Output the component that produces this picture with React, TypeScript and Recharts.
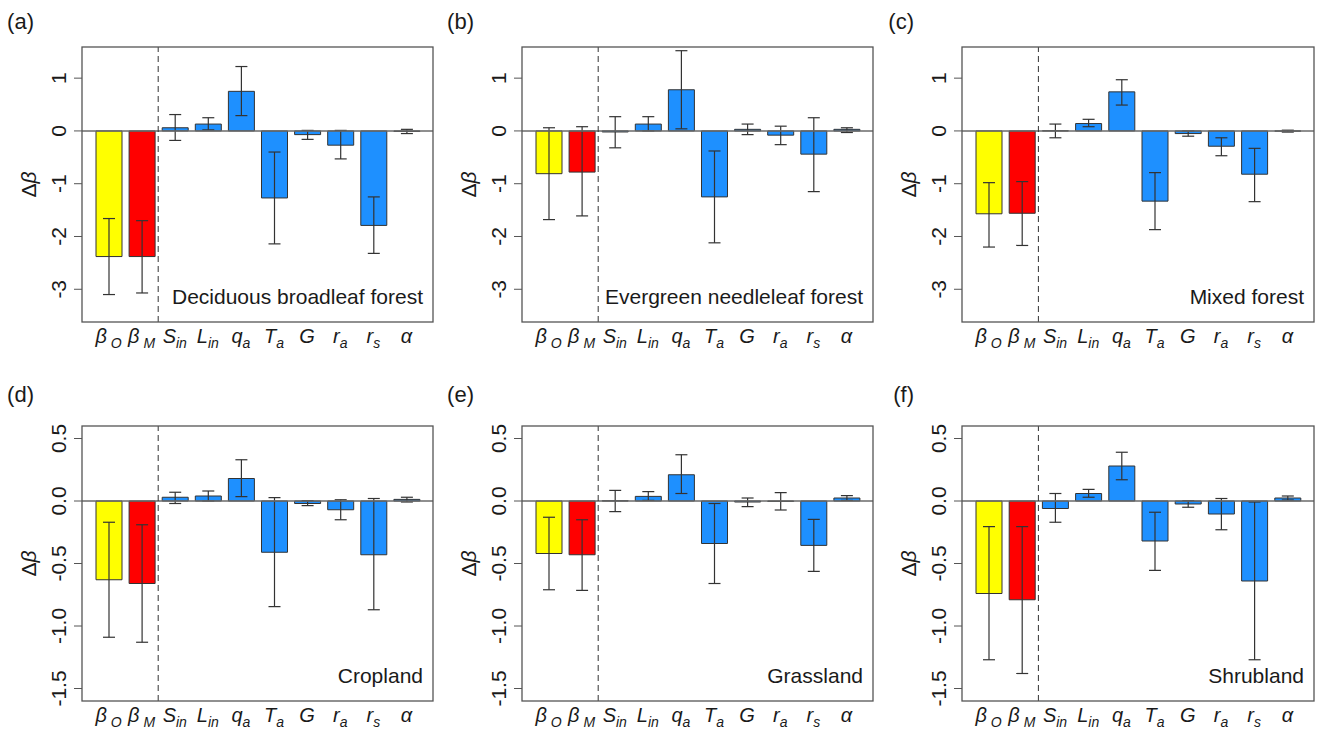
import React from "react";
import {
  BarChart,
  Bar,
  XAxis,
  YAxis,
  ErrorBar,
  Cell,
  ReferenceLine,
} from "recharts";

const categories = ["bO", "bM", "Sin", "Lin", "qa", "Ta", "G", "ra", "rs", "alpha"];
const tickMain = ["β", "β", "S", "L", "q", "T", "G", "r", "r", "α"];
const tickSub = ["O", "M", "in", "in", "a", "a", "", "a", "s", ""];
const barColors = [
  "#FFFF00", "#FF0000", "#1E90FF", "#1E90FF", "#1E90FF",
  "#1E90FF", "#1E90FF", "#1E90FF", "#1E90FF", "#1E90FF",
];

// bar value, lower and upper end of the error bar
const deciduousValues = [-2.38, -2.38, 0.06, 0.13, 0.75, -1.27, -0.07, -0.27, -1.79, -0.01];
const deciduousLow = [-3.1, -3.07, -0.18, 0.02, 0.29, -2.14, -0.16, -0.53, -2.32, -0.05];
const deciduousHigh = [-1.66, -1.7, 0.31, 0.25, 1.22, -0.4, 0.01, 0.01, -1.25, 0.03];

const evergreenValues = [-0.81, -0.78, -0.02, 0.13, 0.78, -1.25, 0.03, -0.08, -0.44, 0.03];
const evergreenLow = [-1.68, -1.61, -0.32, 0.0, 0.04, -2.12, -0.07, -0.26, -1.15, -0.03];
const evergreenHigh = [0.06, 0.08, 0.27, 0.27, 1.52, -0.38, 0.13, 0.09, 0.25, 0.06];

const mixedValues = [-1.57, -1.56, 0.003, 0.14, 0.74, -1.33, -0.05, -0.29, -0.82, -0.004];
const mixedLow = [-2.2, -2.17, -0.13, 0.08, 0.49, -1.87, -0.1, -0.47, -1.34, -0.022];
const mixedHigh = [-0.98, -0.96, 0.13, 0.22, 0.97, -0.79, 0.0, -0.13, -0.33, 0.014];

const croplandValues = [-0.63, -0.66, 0.03, 0.04, 0.18, -0.41, -0.02, -0.07, -0.43, 0.013];
const croplandLow = [-1.09, -1.13, -0.02, 0.0, 0.035, -0.845, -0.037, -0.15, -0.87, -0.008];
const croplandHigh = [-0.17, -0.19, 0.07, 0.08, 0.33, 0.027, 0.003, 0.01, 0.02, 0.03];

const grasslandValues = [-0.42, -0.43, 0.002, 0.037, 0.21, -0.34, -0.008, -0.003, -0.355, 0.024];
const grasslandLow = [-0.71, -0.715, -0.085, 0.005, 0.06, -0.66, -0.045, -0.072, -0.563, 0.005];
const grasslandHigh = [-0.13, -0.15, 0.085, 0.075, 0.37, -0.02, 0.024, 0.067, -0.147, 0.043];

const shrublandValues = [-0.74, -0.79, -0.06, 0.06, 0.28, -0.32, -0.024, -0.104, -0.64, 0.024];
const shrublandLow = [-1.27, -1.38, -0.17, 0.03, 0.17, -0.555, -0.05, -0.23, -1.27, 0.008];
const shrublandHigh = [-0.205, -0.205, 0.06, 0.093, 0.39, -0.09, 0.003, 0.02, -0.008, 0.04];

const forestTicks = [-3, -2, -1, 0, 1];
const openTicks = [-1.5, -1.0, -0.5, 0.0, 0.5];

const FONT = '"Liberation Sans", Arial, Helvetica, sans-serif';
const AXIS_W = 82;
const TOP = 47;
const XAXIS_H = 34;

function buildRows(values: number[], low: number[], high: number[]) {
  return categories.map((cat, i) => ({
    cat,
    value: values[i],
    err: [values[i] - low[i], high[i] - values[i]],
  }));
}

const panels = [
  { letter: "(a)", name: "Deciduous broadleaf forest", x: 82, y: 47, w: 351, h: 275, letterY: 29,
    rows: buildRows(deciduousValues, deciduousLow, deciduousHigh), domain: [-3.62, 1.59], ticks: forestTicks, fmt: (v: number) => String(v) },
  { letter: "(b)", name: "Evergreen needleleaf forest", x: 522, y: 47, w: 351, h: 275, letterY: 29,
    rows: buildRows(evergreenValues, evergreenLow, evergreenHigh), domain: [-3.62, 1.59], ticks: forestTicks, fmt: (v: number) => String(v) },
  { letter: "(c)", name: "Mixed forest", x: 962, y: 47, w: 352, h: 275, letterY: 29,
    rows: buildRows(mixedValues, mixedLow, mixedHigh), domain: [-3.62, 1.59], ticks: forestTicks, fmt: (v: number) => String(v) },
  { letter: "(d)", name: "Cropland", x: 82, y: 426, w: 351, h: 275, letterY: 23,
    rows: buildRows(croplandValues, croplandLow, croplandHigh), domain: [-1.6, 0.6], ticks: openTicks, fmt: (v: number) => v.toFixed(1) },
  { letter: "(e)", name: "Grassland", x: 522, y: 426, w: 351, h: 275, letterY: 23,
    rows: buildRows(grasslandValues, grasslandLow, grasslandHigh), domain: [-1.6, 0.6], ticks: openTicks, fmt: (v: number) => v.toFixed(1) },
  { letter: "(f)", name: "Shrubland", x: 962, y: 426, w: 352, h: 275, letterY: 23,
    rows: buildRows(shrublandValues, shrublandLow, shrublandHigh), domain: [-1.6, 0.6], ticks: openTicks, fmt: (v: number) => v.toFixed(1) },
];

function XTick(props: any) {
  const { x, y, payload } = props;
  const i = categories.indexOf(payload.value);
  return (
    <text x={x} y={y + 21} textAnchor="middle" fontFamily={FONT} fontStyle="italic" fill="#1a1a1a">
      <tspan fontSize={20}>{tickMain[i]}</tspan>
      {tickSub[i] ? (
        <tspan fontSize={14} dx={tickMain[i] === "β" ? 4 : 0} dy={5}>
          {tickSub[i]}
        </tspan>
      ) : null}
    </text>
  );
}

function Panel({ p }: { p: (typeof panels)[number] }) {
  const W = p.w + AXIS_W + 4;
  const H = p.h + TOP + XAXIS_H;
  const YTick = (props: any) => {
    const { x, y, payload } = props;
    return (
      <text x={x} y={y} transform={`rotate(-90 ${x} ${y})`} textAnchor="middle"
        fontFamily={FONT} fontSize={21} fill="#1a1a1a">
        {p.fmt(payload.value)}
      </text>
    );
  };
  return (
    <div style={{ position: "absolute", left: p.x - AXIS_W, top: p.y - TOP, width: W, height: H }}>
      <BarChart width={W} height={H} data={p.rows} margin={{ top: TOP, right: 4, bottom: 0, left: 0 }}>
        <XAxis dataKey="cat" height={XAXIS_H} axisLine={false} tickLine={false} tickSize={0}
          tickMargin={0} interval={0} tick={<XTick />} padding={{ left: 10, right: 10 }} />
        <YAxis type="number" width={AXIS_W} domain={p.domain} ticks={p.ticks} allowDataOverflow
          axisLine={false} tickLine={{ stroke: "#555" }} tickSize={8} tickMargin={8} tick={YTick} />
        <Bar dataKey="value" barSize={26} stroke="#333" strokeWidth={1} isAnimationActive={false}>
          {p.rows.map((r, i) => (
            <Cell key={r.cat} fill={barColors[i]} />
          ))}
          <ErrorBar dataKey="err" width={6} stroke="#333" strokeWidth={1.2} direction="y" />
        </Bar>
        <ReferenceLine y={0} stroke="#6a6a6a" strokeWidth={1.5} />
        <ReferenceLine x="Sin" position="start" stroke="#333" strokeDasharray="6 4" />
      </BarChart>
      <svg width={W} height={H} style={{ position: "absolute", left: 0, top: 0, pointerEvents: "none" }}>
        <rect x={AXIS_W} y={TOP} width={p.w} height={p.h} fill="none" stroke="#555" strokeWidth={1.3} />
        <text x={34} y={p.letterY} textAnchor="end" fontFamily={FONT} fontSize={22} fill="#1a1a1a">
          {p.letter}
        </text>
        <text x={36} y={TOP + p.h / 2} transform={`rotate(-90 36 ${TOP + p.h / 2})`} textAnchor="middle"
          fontFamily={FONT} fontSize={21} fill="#1a1a1a">
          Δ<tspan fontStyle="italic">β</tspan>
        </text>
        <text x={AXIS_W + p.w - 10} y={TOP + p.h - 18} textAnchor="end" fontFamily={FONT} fontSize={21} fill="#1a1a1a">
          {p.name}
        </text>
      </svg>
    </div>
  );
}

export default function App() {
  return (
    <div style={{ position: "absolute", left: 0, top: 0, width: 1317, height: 729, background: "#fff", overflow: "hidden" }}>
      {panels.map((p) => (
        <Panel key={p.letter} p={p} />
      ))}
    </div>
  );
}
